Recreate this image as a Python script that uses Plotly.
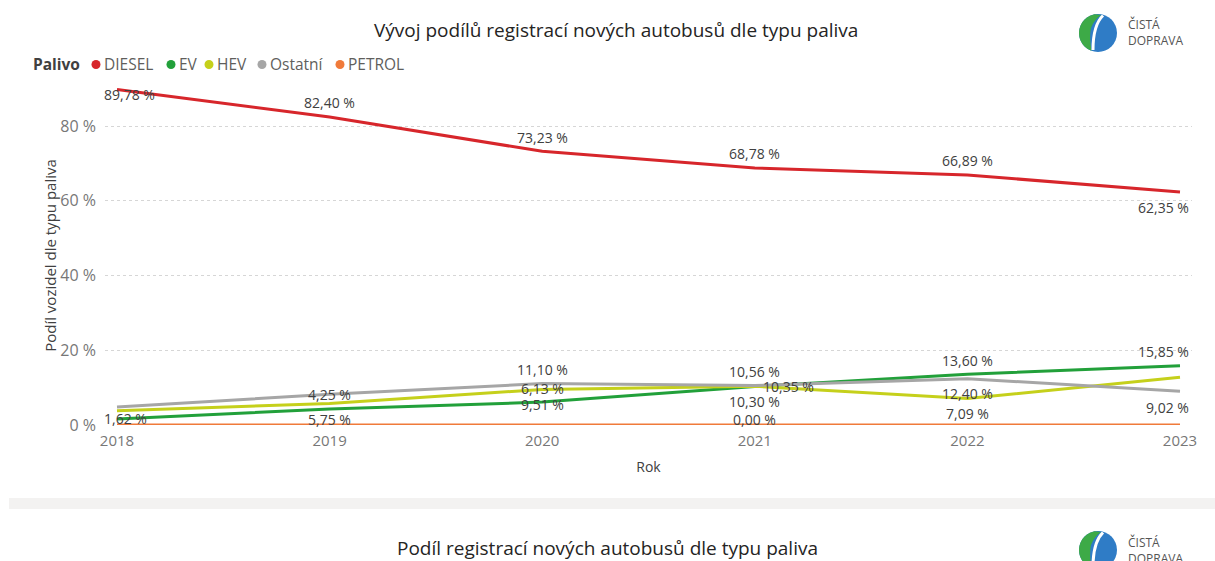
import math
import plotly.graph_objects as go

# ---------------- data ----------------
years = [2018, 2019, 2020, 2021, 2022, 2023]
diesel = [89.78, 82.40, 73.23, 68.78, 66.89, 62.35]
ev = [1.62, 4.25, 6.13, 10.30, 13.60, 15.85]
hev = [3.80, 5.75, 9.51, 10.35, 7.09, 12.78]
ostatni = [4.80, 8.20, 11.10, 10.56, 12.40, 9.02]
petrol = [0.00, 0.00, 0.00, 0.00, 0.00, 0.00]
series_names = ["DIESEL", "EV", "HEV", "Ostatní", "PETROL"]
y_ticks = [0, 20, 40, 60, 80]

series_values = [diesel, ev, hev, ostatni, petrol]

# ---------------- style ----------------
colors = ["#D7262B", "#22A03A", "#C5D01B", "#A6A6A6", "#F07A3A"]
FONT = "Open Sans"
legend_dot_x = [96, 171, 209, 262, 340]  # pixel positions of legend dots

# label placement per series / year index: (xanchor, xshift, yshift)
label_style = {
    "DIESEL": {0: ("left", -14, -5), 1: ("center", 0, 15), 2: ("center", 0, 14),
               3: ("center", 0, 14), 4: ("center", 0, 15), 5: ("right", 10, -16)},
    "EV": {0: ("left", -14, 0), 1: ("center", 0, 15), 2: ("center", 0, 14),
           3: ("center", 0, -15), 4: ("center", 0, 14), 5: ("right", 10, 14)},
    "HEV": {1: ("center", 0, -16), 2: ("center", 0, -15), 3: ("center", 34, 0),
            4: ("center", 0, -15)},
    "Ostatní": {2: ("center", 0, 14), 3: ("center", 0, 14), 4: ("center", 0, -15),
                5: ("right", 10, -16)},
    "PETROL": {3: ("center", 0, 6)},
}

PX_L, PX_R, PX_T, PX_B = 105, 1192, 86, 425
W, H = 1215, 561


def px(x):
    return (x - PX_L) / (PX_R - PX_L)


def py(y):
    return (PX_B - y) / (PX_B - PX_T)


def fmt(v):
    return f"{v:.2f}".replace(".", ",") + " %"


fig = go.Figure()

for name, vals, col in zip(series_names, series_values, colors):
    fig.add_trace(go.Scatter(
        x=years, y=vals, mode="lines", name=name,
        line=dict(color=col, width=3), showlegend=False,
        cliponaxis=False, hoverinfo="skip"))

annotations = []
for name, vals in zip(series_names, series_values):
    for i, (xa, xs, ys) in label_style.get(name, {}).items():
        annotations.append(dict(
            x=years[i], y=vals[i], xref="x", yref="y", text=fmt(vals[i]),
            showarrow=False, xanchor=xa, yanchor="middle", xshift=xs, yshift=ys,
            borderpad=0,
            font=dict(family=FONT, size=14, color="#404040")))

# compact legend (Power BI style)
LEG_Y = 64
annotations.append(dict(
    x=px(31), y=py(LEG_Y), xref="paper", yref="paper", xanchor="left", yanchor="middle",
    showarrow=False, text="<b>Palivo</b>",
    font=dict(family=FONT, size=15.5, color="#404040")))
for name, col, dx in zip(series_names, colors, legend_dot_x):
    fig.add_shape(type="circle", xref="paper", yref="paper",
                  x0=px(dx - 4.5), x1=px(dx + 4.5), y0=py(LEG_Y + 5), y1=py(LEG_Y - 4),
                  fillcolor=col, line=dict(width=0))
    annotations.append(dict(
        x=px(dx + 6), y=py(LEG_Y), xref="paper", yref="paper", xanchor="left",
        yanchor="middle", showarrow=False, text=name,
        font=dict(family=FONT, size=15.5, color="#605E5C")))


def add_logo(cx, cy, r):
    fig.add_shape(type="circle", xref="paper", yref="paper",
                  x0=px(cx - r), x1=px(cx + r), y0=py(cy + r), y1=py(cy - r),
                  fillcolor="#2F7CC6", line=dict(width=0), layer="above")
    pts = []
    for k in range(0, 21):
        a = math.radians(100 + k * 7.5)
        pts.append((cx + r * math.cos(a), cy - r * math.sin(a)))
    path = "M " + " L ".join(f"{px(x):.5f},{py(y):.5f}" for x, y in pts)
    path += (f" Q {px(cx - 9):.5f},{py(cy + 4):.5f} {px(cx - 7):.5f},{py(cy - 5):.5f}"
             f" Q {px(cx - 4):.5f},{py(cy - 13):.5f} {px(cx + 3):.5f},{py(cy - r + 1):.5f} Z")
    fig.add_shape(type="path", xref="paper", yref="paper", path=path,
                  fillcolor="#3DAA47", line=dict(width=0), layer="above")
    road = (f"M {px(cx + 5):.5f},{py(cy - r + 1.5):.5f} "
            f"Q {px(cx - 5):.5f},{py(cy - 8):.5f} {px(cx - 5):.5f},{py(cy + r - 2):.5f}")
    fig.add_shape(type="path", xref="paper", yref="paper", path=road,
                  line=dict(color="white", width=3), layer="above")
    annotations.append(dict(
        x=px(cx + 28), y=py(cy), xref="paper", yref="paper", xanchor="left",
        yanchor="middle", showarrow=False, align="left",
        text="ČISTÁ<br>DOPRAVA",
        font=dict(family=FONT, size=12, color="#555555")))


add_logo(1098, 33, 19)
add_logo(1098, 550, 19)

# separator band
fig.add_shape(type="rect", xref="paper", yref="paper",
              x0=px(9), x1=px(1215), y0=py(509), y1=py(498),
              fillcolor="#F3F2F1", line=dict(width=0), layer="below")

# titles
annotations.append(dict(
    x=px(616), y=py(30), xref="paper", yref="paper", showarrow=False,
    xanchor="center", yanchor="middle",
    text="Vývoj podílů registrací nových autobusů dle typu paliva",
    font=dict(family=FONT, size=19, color="#252423")))
annotations.append(dict(
    x=px(607), y=py(548), xref="paper", yref="paper", showarrow=False,
    xanchor="center", yanchor="middle",
    text="Podíl registrací nových autobusů dle typu paliva",
    font=dict(family=FONT, size=19, color="#252423")))

fig.update_layout(
    width=W, height=H,
    margin=dict(l=PX_L, r=W - PX_R, t=PX_T, b=H - PX_B, pad=0),
    paper_bgcolor="white", plot_bgcolor="white",
    font=dict(family=FONT, color="#605E5C"),
    annotations=annotations,
    showlegend=False,
    xaxis=dict(
        range=[2018 - 12 / 212.6, 2023 + 12 / 212.6],
        tickmode="array", tickvals=years, ticktext=[str(y) for y in years],
        showgrid=False, zeroline=False, showline=False,
        tickfont=dict(family=FONT, size=15, color="#777777"),
        ticklabelstandoff=5,
        title=dict(text="Rok", font=dict(family=FONT, size=14, color="#404040"), standoff=13)),
    yaxis=dict(
        range=[0, (PX_B - PX_T) / 3.7375],
        tickmode="array", tickvals=y_ticks, ticktext=[f"{v} %" for v in y_ticks],
        showgrid=True, gridcolor="#D6D6D6", griddash="dot", gridwidth=1,
        zeroline=False, showline=False,
        tickfont=dict(family=FONT, size=16, color="#777777"),
        ticklabelstandoff=8,
        title=dict(text="Podíl vozidel dle typu paliva",
                   font=dict(family=FONT, size=15, color="#404040"), standoff=0)),
)

fig.write_html("out.html", config={"displayModeBar": False},
               post_script="document.body.style.margin='0';document.body.style.overflow='hidden';")
